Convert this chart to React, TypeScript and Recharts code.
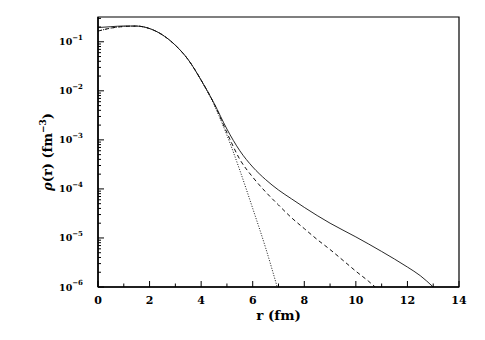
import { Label, Line, LineChart, ReferenceArea, XAxis, YAxis } from "recharts";

// solid curve
const rSolid = [0, 0.5, 1, 1.5, 2, 2.5, 3, 3.5, 4, 4.5, 5, 5.5, 6, 6.5, 7, 7.5, 8, 9, 10, 11, 12, 12.5, 13];
const rhoSolid = [
  0.195, 0.203, 0.21, 0.209, 0.186, 0.138, 0.085, 0.043, 0.0165, 5.6e-3, 1.66e-3, 6.0e-4, 2.8e-4, 1.55e-4,
  9.5e-5, 6.3e-5, 4.2e-5, 2.0e-5, 1.05e-5, 5.3e-6, 2.55e-6, 1.7e-6, 1.0e-6,
];

// dashed curve
const rDashed = [0, 0.5, 1, 1.5, 2, 2.5, 3, 3.5, 4, 4.5, 5, 5.5, 6, 6.5, 7, 7.5, 8, 8.5, 9, 9.5, 10, 10.5, 10.75];
const rhoDashed = [
  0.165, 0.19, 0.205, 0.209, 0.186, 0.138, 0.085, 0.043, 0.0165, 5.5e-3, 1.4e-3, 4.0e-4, 1.74e-4, 8.7e-5,
  4.7e-5, 2.6e-5, 1.55e-5, 9.3e-6, 5.8e-6, 3.5e-6, 2.1e-6, 1.3e-6, 1.0e-6,
];

// dotted curve
const rDotted = [0, 0.5, 1, 1.5, 2, 2.5, 3, 3.5, 4, 4.5, 5, 5.5, 6, 6.5, 6.95];
const rhoDotted = [
  0.165, 0.19, 0.205, 0.209, 0.186, 0.138, 0.085, 0.043, 0.0163, 5.2e-3, 1.25e-3, 2.4e-4, 4.0e-5, 6.3e-6, 1.0e-6,
];

const xTicks = [0, 1, 2, 3, 4, 5, 6, 7, 8, 9, 10, 11, 12, 13, 14];
const decades = [1e-6, 1e-5, 1e-4, 1e-3, 1e-2, 1e-1];
const mantissas = [1, 2, 3, 4, 5, 6, 7, 8, 9];

const yTicks = decades
  .flatMap((d) => mantissas.map((m) => m * d))
  .filter((v) => v <= 0.32);

const toRows = (rs: number[], vs: number[]) => rs.map((r, i) => ({ r, v: vs[i] }));
const solid = toRows(rSolid, rhoSolid);
const dashed = toRows(rDashed, rhoDashed);
const dotted = toRows(rDotted, rhoDotted);

const FONT = "'DejaVu Serif', serif";

function YTick(props: any) {
  const { x, y, payload } = props;
  const lg = Math.log10(payload.value);
  const exp = Math.round(lg);
  const major = Math.abs(lg - exp) < 1e-6;
  return (
    <g>
      <line x1={x} x2={x + (major ? 6 : 3)} y1={y} y2={y} stroke="#000" strokeWidth={1} />
      {major && (
        <text x={x - 15} y={y + 3.5} textAnchor="end" fontFamily={FONT} fontWeight="bold" fontSize={9.5} fill="#000">
          10
          <tspan dy={-5.5} fontSize={7}>
            {"\u2212" + -exp}
          </tspan>
        </text>
      )}
    </g>
  );
}

function XTick(props: any) {
  const { x, y, payload } = props;
  const major = payload.value % 2 === 0;
  return (
    <g>
      <line x1={x} x2={x} y1={y} y2={y - (major ? 6 : 3.5)} stroke="#000" strokeWidth={1} />
      {major && (
        <text x={x} y={y + 17} textAnchor="middle" fontFamily={FONT} fontWeight="bold" fontSize={11} fill="#000">
          {payload.value}
        </text>
      )}
    </g>
  );
}

export default function App() {
  return (
    <div style={{ position: "absolute", left: 0, top: 0, background: "#fff" }}>
      <LineChart width={485} height={340} margin={{ top: 17, right: 26, bottom: 0, left: 0 }}>
        <XAxis
          dataKey="r"
          type="number"
          domain={[0, 14]}
          ticks={xTicks}
          interval={0}
          tickSize={0}
          tickMargin={0}
          tickLine={false}
          tick={<XTick />}
          height={53}
          axisLine={{ stroke: "#000", strokeWidth: 1.5 }}
        >
          <Label
            content={(p: any) => {
              const vb = p.viewBox;
              return (
                <text
                  x={vb.x + vb.width / 2}
                  y={vb.y + 33}
                  textAnchor="middle"
                  fontFamily={FONT}
                  fontWeight="bold"
                  fontSize={13.5}
                  fill="#000"
                >
                  r (fm)
                </text>
              );
            }}
          />
        </XAxis>
        <YAxis
          type="number"
          scale="log"
          domain={[1e-6, 0.32]}
          allowDataOverflow
          ticks={yTicks}
          interval={0}
          tickSize={0}
          tickMargin={0}
          tickLine={false}
          tick={<YTick />}
          width={98}
          axisLine={{ stroke: "#000", strokeWidth: 1.5 }}
        >
          <Label
            content={(p: any) => {
              const vb = p.viewBox;
              const cx = 52;
              const cy = vb.y + vb.height / 2;
              return (
                <text
                  x={cx}
                  y={cy}
                  transform={`rotate(-90, ${cx}, ${cy})`}
                  textAnchor="middle"
                  fontFamily={FONT}
                  fontWeight="bold"
                  fontSize={13}
                  fill="#000"
                >
                  <tspan fontStyle="italic">ρ</tspan>
                  (r)  (fm
                  <tspan dy={-6} fontSize={9}>
                    {"\u22123"}
                  </tspan>
                  <tspan dy={6}>)</tspan>
                </text>
              );
            }}
          />
        </YAxis>
        <ReferenceArea
          x1={0}
          x2={14}
          y1={1e-6}
          y2={0.32}
          fill="none"
          stroke="#000"
          strokeWidth={1.2}
          ifOverflow="visible"
        />
        <Line
          data={solid}
          dataKey="v"
          type="monotone"
          stroke="#111"
          strokeWidth={0.9}
          dot={false}
          activeDot={false}
          isAnimationActive={false}
        />
        <Line
          data={dashed}
          dataKey="v"
          type="monotone"
          stroke="#111"
          strokeWidth={1}
          strokeDasharray="4 3"
          dot={false}
          activeDot={false}
          isAnimationActive={false}
        />
        <Line
          data={dotted}
          dataKey="v"
          type="monotone"
          stroke="#111"
          strokeWidth={1}
          strokeDasharray="1 1.6"
          dot={false}
          activeDot={false}
          isAnimationActive={false}
        />
      </LineChart>
    </div>
  );
}
